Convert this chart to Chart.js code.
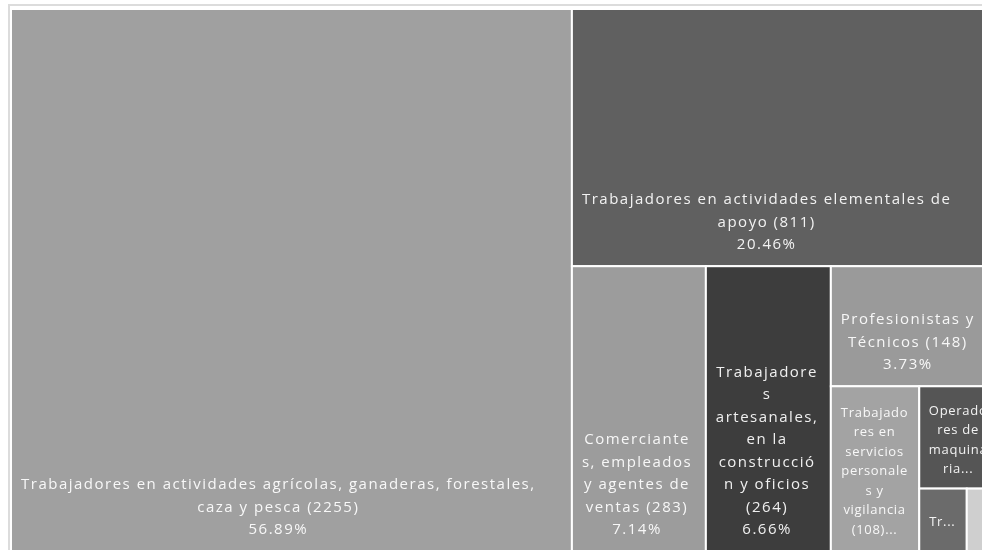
<!DOCTYPE html>
<html><head><meta charset="utf-8">
<script src="https://cdn.jsdelivr.net/npm/chart.js@4"></script>
<style>
html,body{margin:0;padding:0;background:#fff;overflow:hidden;width:982px;height:550px}
#wrap{position:absolute;left:0;top:0;width:1000px;height:552px}
</style></head>
<body><div id="wrap"><canvas id="c" width="1000" height="552"></canvas></div>
<script>
const categories = [
  'Trabajadores en actividades agrícolas, ganaderas, forestales, caza y pesca',
  'Trabajadores en actividades elementales de apoyo',
  'Comerciantes, empleados y agentes de ventas',
  'Trabajadores artesanales, en la construcción y oficios',
  'Profesionistas y Técnicos',
  'Trabajadores en servicios personales y vigilancia',
  'Operadores de maquinaria industrial, ensambladores, choferes y conductores de transporte',
  'Trabajadores auxiliares en actividades administrativas',
  'Funcionarios, directores y jefes'
];
const values = [2255, 811, 283, 264, 148, 108, 59, 22, 14];
const palette = ['#a0a0a0','#606060','#9c9c9c','#3d3d3d','#9a9a9a','#a3a3a3','#555555','#6b6b6b','#cfcfcf'];
const total = values.reduce((a, b) => a + b, 0);

const FONT = '"Open Sans", "DejaVu Sans", sans-serif';

function wrapWords(ctx, text, maxW) {
  const words = text.split(' ');
  const lines = [];
  let cur = '';
  for (const w of words) {
    const test = cur ? cur + ' ' + w : w;
    if (ctx.measureText(test).width <= maxW) { cur = test; continue; }
    if (cur) { lines.push(cur); cur = ''; }
    if (ctx.measureText(w).width <= maxW) { cur = w; continue; }
    let chunk = '';
    for (const ch of w) {
      if (!chunk || ctx.measureText(chunk + ch).width <= maxW) chunk += ch;
      else { lines.push(chunk); chunk = ch; }
    }
    cur = chunk;
  }
  if (cur) lines.push(cur);
  return lines;
}

// Greedy slice layout in value space: each item cuts across the longer side of the remaining rectangle
function computeCells(xs, ys) {
  let rx0 = 0, ry0 = 0, rx1 = 1, ry1 = 1;
  let remaining = total;
  const cells = [];
  values.forEach((v, i) => {
    const pw = Math.abs(xs.getPixelForValue(rx1) - xs.getPixelForValue(rx0));
    const ph = Math.abs(ys.getPixelForValue(ry1) - ys.getPixelForValue(ry0));
    const f = v / remaining;
    let c;
    if (pw >= ph) {
      const nx = rx0 + (rx1 - rx0) * f;
      c = {x0: rx0, y0: ry0, x1: nx, y1: ry1};
      rx0 = nx;
    } else {
      const ny = ry0 + (ry1 - ry0) * f;
      c = {x0: rx0, y0: ry0, x1: rx1, y1: ny};
      ry0 = ny;
    }
    remaining -= v;
    cells.push(c);
  });
  return cells;
}

const treemapPlugin = {
  id: 'treemapCells',
  beforeDraw(chart) {
    const ctx = chart.ctx;
    ctx.save();
    ctx.fillStyle = '#dcdcdc';
    ctx.fillRect(8, 4, 992, 2);
    ctx.fillRect(8, 4, 2, 548);
    ctx.restore();
  },
  afterDatasetsDraw(chart) {
    const ctx = chart.ctx;
    const xs = chart.scales.x, ys = chart.scales.y;
    const cells = computeCells(xs, ys);
    ctx.save();
    cells.forEach((c, i) => {
      const left = xs.getPixelForValue(c.x0), right = xs.getPixelForValue(c.x1);
      const top = ys.getPixelForValue(c.y0), bottom = ys.getPixelForValue(c.y1);
      const w = right - left, h = bottom - top;
      ctx.fillStyle = palette[i];
      ctx.fillRect(left, top, w, h);
      ctx.strokeStyle = '#ffffff';
      ctx.lineWidth = 2;
      ctx.strokeRect(left, top, w, h);

      const small = Math.min(w, h) < 100;
      const fs = small ? 13 : 15;
      const lh = fs * 1.5;
      const padX = 10, padY = 10;
      ctx.font = fs + 'px ' + FONT;
      ctx.letterSpacing = small ? '0.7px' : '1.5px';
      const maxW = w - (small ? 18 : 20);
      if (maxW <= 0) return;
      const pct = (values[i] / total * 100).toFixed(2) + '%';
      let lines = wrapWords(ctx, categories[i] + ' (' + values[i] + ')', maxW)
        .concat(wrapWords(ctx, pct, maxW));
      const maxLines = Math.floor((h - 24) / lh);
      if (maxLines < 1) return;
      let truncated = false;
      if (lines.length > maxLines) {
        truncated = true;
        lines = lines.slice(0, maxLines);
        let last = lines[maxLines - 1];
        while (last.length && ctx.measureText(last + '...').width > maxW) last = last.slice(0, -1);
        if (!last.length && ctx.measureText('...').width > maxW) return;
        lines[maxLines - 1] = last + '...';
      }
      const blockW = Math.max(...lines.map(l => ctx.measureText(l).width));
      const cx = Math.min(left + padX + blockW / 2, left + w / 2);
      ctx.fillStyle = 'rgba(255,255,255,0.92)';
      ctx.textAlign = 'center';
      ctx.textBaseline = 'middle';
      const lastY = truncated
        ? (top + bottom) / 2 + 3 + (lines.length - 1) * lh / 2
        : bottom - padY - lh / 2;
      lines.forEach((l, k) => {
        ctx.fillText(l, cx, lastY - (lines.length - 1 - k) * lh);
      });
    });
    ctx.restore();
  }
};

new Chart(document.getElementById('c'), {
  type: 'scatter',
  data: { datasets: [{ label: 'Ocupación', data: [], pointRadius: 0 }] },
  options: {
    responsive: false,
    animation: false,
    layout: { padding: { left: 11, top: 9, right: 3, bottom: 1 } },
    scales: {
      x: { type: 'linear', min: 0, max: 1, display: false },
      y: { type: 'linear', min: 0, max: 1, reverse: true, display: false }
    },
    plugins: { legend: { display: false }, tooltip: { enabled: false } }
  },
  plugins: [treemapPlugin]
});
</script>
</body></html>
